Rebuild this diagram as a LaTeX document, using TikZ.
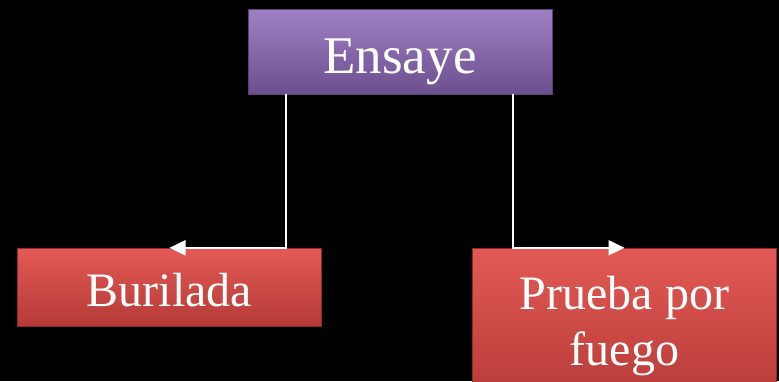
\documentclass[tikz,border=0pt]{standalone}
\usepackage{fontspec}
\setmainfont{Liberation Serif}
\usetikzlibrary{positioning, calc, arrows.meta}
\definecolor{ensayetop}{HTML}{9F80C6}
\definecolor{ensayebot}{HTML}{6C4F8E}
\definecolor{ensayeedge}{HTML}{5A4178}
\definecolor{ramatop}{HTML}{E35A55}
\definecolor{ramabot}{HTML}{B53A37}
\definecolor{ramaedge}{HTML}{8E2A28}
\tikzset{
root/.style = {rectangle, draw = ensayeedge, thin, top color = ensayetop,
   bottom color = ensayebot, minimum width = 304pt, minimum height = 85pt,
   inner sep = 0pt, text = white, font = \fontsize{53}{60}\selectfont},
branch/.style = {rectangle, draw = ramaedge, thin, top color = ramatop,
   bottom color = ramabot, minimum width = 304pt, inner sep = 0pt,
   text = white, align = center, font = \fontsize{48}{56}\selectfont},
link/.style = {-{Triangle[length = 16pt, width = 15pt]}, draw = white,
   line width = 2pt}
}

\begin{document}
\begin{tikzpicture}[x = 1pt, y = -1pt]

\path [use as bounding box, fill = black] (0,0) rectangle (779,381);

%% Boxes
\node [root, text height = 56pt] (ensaye) at (400, 51.5) {Ensaye};
\node [branch, minimum height = 78pt, text height = 40pt] (buril) at (169.5, 287) {Burilada};
\node [branch, minimum height = 156pt] (fuego) at (624.5, 326) {Prueba por\\fuego};

%% Links
\draw [link] ($(ensaye.south west) + (38,0)$) |- (buril.north);
\draw [link] ($(ensaye.south east) + (-39,0)$) |- (fuego.north);

\end{tikzpicture}
\end{document}
